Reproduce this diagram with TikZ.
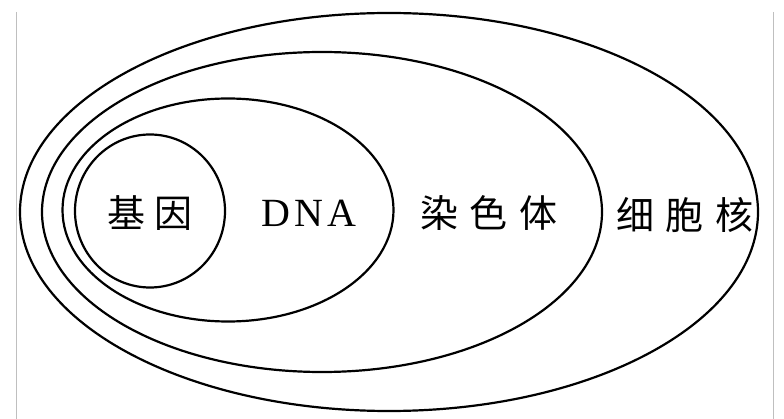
\documentclass[tikz,border=0pt]{standalone}
\usepackage{fontspec}
\setmainfont{Liberation Serif}
\newfontfamily\cjk{Noto Sans CJK SC}
\usetikzlibrary{shapes.geometric}
\tikzset{
  ring/.style={draw=black, line width=2.2pt, ellipse, inner sep=0pt},
  lbl/.style={font=\cjk\fontsize{38}{40}\selectfont, inner sep=0pt},
  lat/.style={font=\fontsize{40}{42}\selectfont, inner sep=0pt},
  edge/.style={draw=black!25, line width=1pt}
}
\begin{document}
\begin{tikzpicture}[x=1pt,y=-1pt]
\useasboundingbox (0,0) rectangle (784,419);
\coordinate (lt) at (16,12);
\coordinate (lb) at (16,419);
\coordinate (rt) at (773,12);
\coordinate (rb) at (773,419);
\draw[edge] (lt) -- (lb);
\draw[edge] (rt) -- (rb);
\node[ring, minimum width=738pt, minimum height=398pt] (nucleus) at (389,212) {};
\node[ring, minimum width=560pt, minimum height=320pt] (chrom) at (322,212) {};
\node[ring, minimum width=331pt, minimum height=223pt] (dna) at (228,210) {};
\node[ring, minimum width=150pt, minimum height=153pt] (gene) at (150,211) {};
\node[lbl] (tgene) at (150,213) {基\hspace{9pt}因};
\node[lat] (tdna) at (309,213) {D\hspace{4pt}N\hspace{4pt}A};
\node[lbl] (tchrom) at (489,213) {染\hspace{12pt}色\hspace{12pt}体};
\node[lbl] (tnuc) at (685,215) {细\hspace{12pt}胞\hspace{12pt}核};
\end{tikzpicture}
\end{document}
